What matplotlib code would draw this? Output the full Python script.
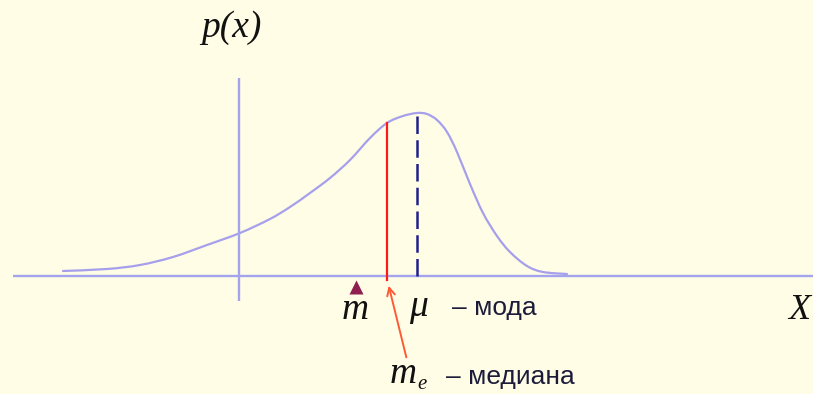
import matplotlib
matplotlib.use("Agg")
import matplotlib.pyplot as plt
from matplotlib.path import Path
from matplotlib.patches import PathPatch

# Density curve p(x): abscissa and height above the x-axis
curve_x = [63, 107, 140, 173, 207, 240, 270, 290, 310, 330, 350, 370, 387,
           403, 417, 427, 437, 447, 457, 470, 483, 497, 510, 527, 543, 567]
curve_p = [5, 7, 11, 19, 31, 43, 57, 69, 83, 98, 116, 138, 153,
           160, 163, 162, 156, 144, 124, 92, 63, 40, 24, 10, 4, 2]

# Characteristic points on the x-axis
mean_x = 357      # m (expectation)
median_x = 387    # m_e (median)
mode_x = 417      # mu (mode)
median_p = 153
mode_p = 163

axis_x = 239      # vertical p-axis position

bg = "#FFFDE6"
axis_col = "#A4A4EE"
curve_col = "#A6A0EC"


def smooth_path(xs, ys):
    """Cubic Bezier path passing through the given points (Catmull-Rom tangents)."""
    pts = list(zip(xs, ys))
    n = len(pts)
    verts = [pts[0]]
    codes = [Path.MOVETO]
    for i in range(n - 1):
        p0 = pts[i - 1] if i > 0 else pts[i]
        p1 = pts[i]
        p2 = pts[i + 1]
        p3 = pts[i + 2] if i + 2 < n else pts[i + 1]
        c1 = (p1[0] + (p2[0] - p0[0]) / 6, p1[1] + (p2[1] - p0[1]) / 6)
        c2 = (p2[0] - (p3[0] - p1[0]) / 6, p2[1] - (p3[1] - p1[1]) / 6)
        verts += [c1, c2, p2]
        codes += [Path.CURVE4] * 3
    return Path(verts, codes)


fig = plt.figure(figsize=(8.13, 3.94), dpi=100, facecolor=bg)
ax = fig.add_axes([0, 0, 1, 1])
ax.set_facecolor(bg)
ax.set_xlim(0, 813)
ax.set_ylim(-118, 276)
ax.axis("off")

# Axes
ax.plot([13, 813], [0, 0], color=axis_col, lw=1.7, solid_capstyle="butt")
ax.plot([axis_x, axis_x], [-25, 198], color=axis_col, lw=1.7, solid_capstyle="butt")

# Density curve
ax.add_patch(PathPatch(smooth_path(curve_x, curve_p), facecolor="none",
                       edgecolor=curve_col, lw=1.6, capstyle="round"))

# Median ordinate
ax.plot([median_x, median_x], [-4, median_p], color="#FF1A1A", lw=1.6)
# Mode ordinate (dashed)
ax.plot([mode_x, mode_x], [0, mode_p], color="#20208C", lw=1.8,
        dashes=(7, 2.5))

# Expectation marker
ax.plot([mean_x - 1], [-11], marker="^", color="#8E1F4E", markersize=10.5, mec="none")

# Arrow pointing to the median
ax.annotate("", xy=(median_x + 1, -7), xytext=(407, -84),
            arrowprops=dict(arrowstyle="->", color="#FF5A36", lw=1.4,
                            mutation_scale=14))

serif = ["Liberation Serif", "DejaVu Serif"]
sans = ["Liberation Sans", "DejaVu Sans"]
txt_col = "#1C1C3A"
ink = "#111111"

ax.text(231, 239, "p(x)", family=serif, style="italic", fontsize=27,
        ha="center", va="baseline", color=ink)
ax.text(810, -43, "X", family=serif, style="italic", fontsize=26,
        ha="right", va="baseline", color=ink)

ax.text(mean_x - 2, -43, "m", family=serif, style="italic", fontsize=27,
        ha="center", va="baseline", color=ink)
ax.text(mode_x + 1, -40, "μ", family=serif, style="italic", fontsize=27,
        ha="center", va="baseline", color=ink)
ax.text(452, -39, "– мода", family=sans, fontsize=19,
        ha="left", va="baseline", color=txt_col)

ax.text(403, -107, "m", family=serif, style="italic", fontsize=27,
        ha="center", va="baseline", color=ink)
ax.text(417, -113, "e", family=serif, style="italic", fontsize=15,
        ha="left", va="baseline", color=ink)
ax.text(446, -108, "– медиана", family=sans, fontsize=19,
        ha="left", va="baseline", color=txt_col)

fig.savefig("out.png", dpi=100, facecolor=bg)
